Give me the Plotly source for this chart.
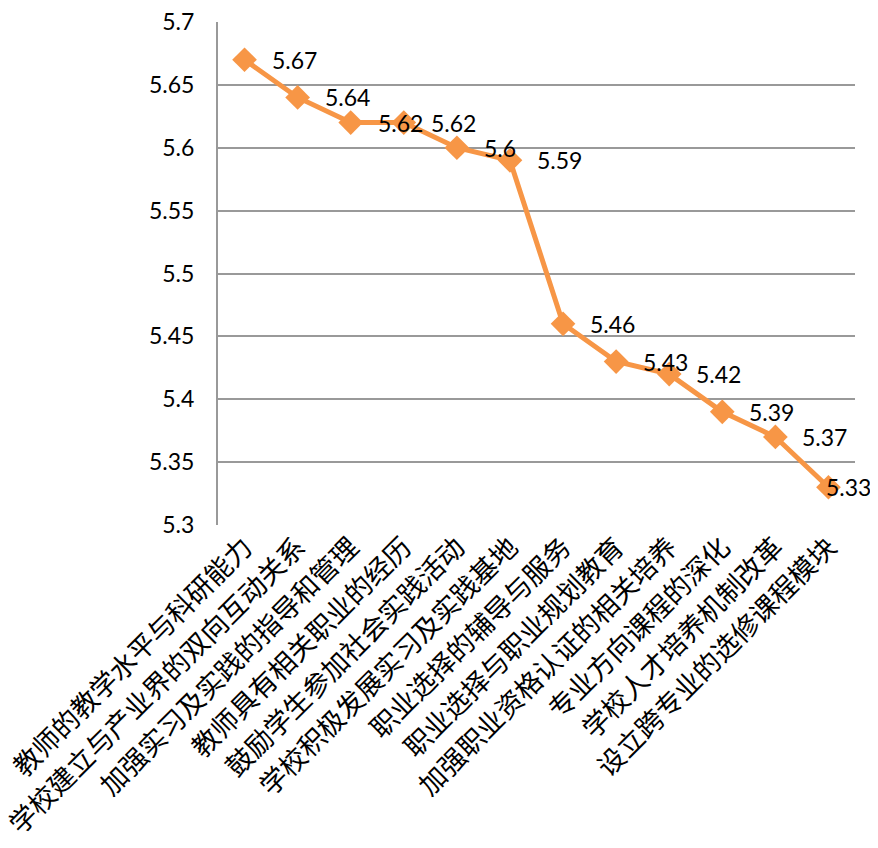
import plotly.graph_objects as go

# Data
items = [
    "教师的教学水平与科研能力",
    "学校建立与产业界的双向互动关系",
    "加强实习及实践的指导和管理",
    "教师具有相关职业的经历",
    "鼓励学生参加社会实践活动",
    "学校积极发展实习及实践基地",
    "职业选择的辅导与服务",
    "职业选择与职业规划教育",
    "加强职业资格认证的相关培养",
    "专业方向课程的深化",
    "学校人才培养机制改革",
    "设立跨专业的选修课程模块",
]
scores = [5.67, 5.64, 5.62, 5.62, 5.60, 5.59, 5.46, 5.43, 5.42, 5.39, 5.37, 5.33]
y_ticks = [5.3, 5.35, 5.4, 5.45, 5.5, 5.55, 5.6, 5.65, 5.7]

orange = "#F79646"

fig = go.Figure()
fig.add_trace(go.Scatter(
    x=items, y=scores,
    mode="lines+markers",
    line=dict(color=orange, width=5),
    marker=dict(symbol="diamond", size=19, color=orange),
    cliponaxis=False,
    showlegend=False,
))

# data labels to the right of each point (last one nudged in to fit, as in the original)
for i, (name, v) in enumerate(zip(items, scores)):
    fig.add_annotation(
        x=name, y=v, text=f"{v:g}",
        showarrow=False, xanchor="left", yanchor="middle",
        xshift=-4 if i == len(items) - 1 else 25,
        font=dict(family="Lato, sans-serif", size=23, color="black"),
    )

# the page body adds 8px, so margins are set 8px smaller at top/left
fig.update_layout(
    width=878, height=848,
    margin=dict(l=210, r=31, t=14, b=331),
    plot_bgcolor="white",
    paper_bgcolor="white",
    xaxis=dict(
        type="category",
        tickangle=-45,
        tickfont=dict(family="Noto Sans CJK SC", size=27, color="black"),
        showgrid=False,
        showline=False,
        ticks="",
        range=[-0.5, len(items) - 0.5],
        automargin=False,
        ticklabeloverflow="allow",
    ),
    yaxis=dict(
        range=[5.3, 5.7],
        tickvals=y_ticks,
        ticktext=[f"{t:g}" for t in y_ticks],
        tickfont=dict(family="Lato, sans-serif", size=23, color="black"),
        showgrid=True,
        gridcolor="#999999",
        gridwidth=2,
        showline=True,
        linecolor="#999999",
        linewidth=2,
        zeroline=False,
        ticks="",
        ticklabelstandoff=17,
        automargin=False,
        ticklabeloverflow="allow",
    ),
)

fig.write_html("out.html")
